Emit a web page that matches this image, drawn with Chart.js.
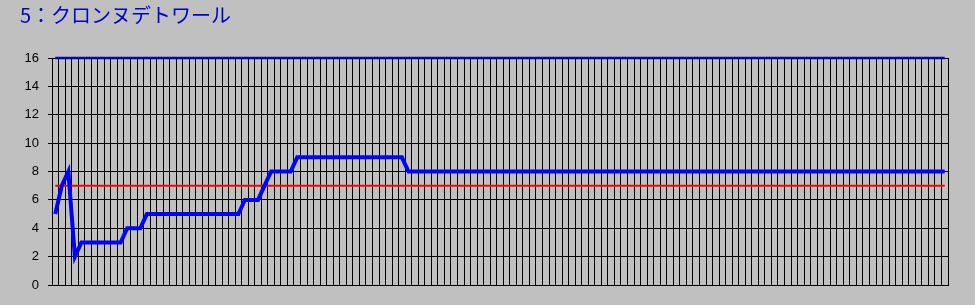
<!DOCTYPE html>
<html><head><meta charset="utf-8">
<style>html,body{margin:0;padding:0;background:#c0c0c0;overflow:hidden;} #wrap{width:975px;height:305px;position:relative;}</style>
<script src="https://cdn.jsdelivr.net/npm/chart.js@4/dist/chart.umd.min.js"></script>
</head><body><div id="wrap"><canvas id="c" width="975" height="305"></canvas></div>
<script>
const titleText = '5：クロンヌデトワール';
const raceLabels = Array.from({length: 137}, (_, i) => String(i + 1));
const rankValues = [
  5, 7, 8, 2, 3, 3, 3, 3, 3, 3, 3, 4, 4, 4, 5, 5, 5, 5, 5, 5,
  5, 5, 5, 5, 5, 5, 5, 5, 5, 6, 6, 6, 7, 8, 8, 8, 8, 9, 9, 9,
  9, 9, 9, 9, 9, 9, 9, 9, 9, 9, 9, 9, 9, 9, 8, 8, 8, 8, 8, 8,
  8, 8, 8, 8, 8, 8, 8, 8, 8, 8, 8, 8, 8, 8, 8, 8, 8, 8, 8, 8,
  8, 8, 8, 8, 8, 8, 8, 8, 8, 8, 8, 8, 8, 8, 8, 8, 8, 8, 8, 8,
  8, 8, 8, 8, 8, 8, 8, 8, 8, 8, 8, 8, 8, 8, 8, 8, 8, 8, 8, 8,
  8, 8, 8, 8, 8, 8, 8, 8, 8, 8, 8, 8, 8, 8, 8, 8, 8
];
const referenceLevel = 7;
const fieldSize = 16;
const yMin = 0, yMax = 16, yStep = 2;

const firstLabel = raceLabels[0];
const lastLabel = raceLabels[raceLabels.length - 1];

new Chart(document.getElementById('c'), {
  type: 'line',
  data: {
    labels: raceLabels,
    datasets: [
      { label: '順位', data: rankValues, borderColor: '#0000ff', borderWidth: 4, pointRadius: 0, tension: 0, fill: false },
      { label: '基準', data: [{x: firstLabel, y: referenceLevel}, {x: lastLabel, y: referenceLevel}], borderColor: '#ff0000', borderWidth: 2, pointRadius: 0, fill: false },
      { label: '頭数', data: [{x: firstLabel, y: fieldSize}, {x: lastLabel, y: fieldSize}], borderColor: '#0000c0', borderWidth: 2.5, pointRadius: 0, fill: false, clip: false }
    ]
  },
  options: {
    responsive: false,
    animation: false,
    layout: { padding: { left: 20, right: 27, top: 0, bottom: 20 } },
    plugins: {
      legend: { display: false },
      tooltip: { enabled: false },
      title: {
        display: true, text: titleText, align: 'start', color: '#0000c8',
        font: { family: "'Noto Sans CJK JP', sans-serif", size: 20, weight: 'normal', lineHeight: 1.2 },
        padding: { top: 3, bottom: 31 }
      }
    },
    scales: {
      x: {
        type: 'category', offset: true,
        grid: { offset: true, color: '#000000', lineWidth: 1, drawTicks: false },
        ticks: { display: false },
        border: { color: '#000000', width: 1 }
      },
      y: {
        min: yMin, max: yMax,
        ticks: { stepSize: yStep, color: '#000000', padding: 9, font: { family: "'Liberation Sans', Arial, sans-serif", size: 13 } },
        grid: { color: '#000000', lineWidth: 1, tickLength: 4 },
        border: { color: '#000000', width: 1 },
        afterFit(s) { s.width = 32; }
      }
    }
  }
});
</script>
</body></html>
